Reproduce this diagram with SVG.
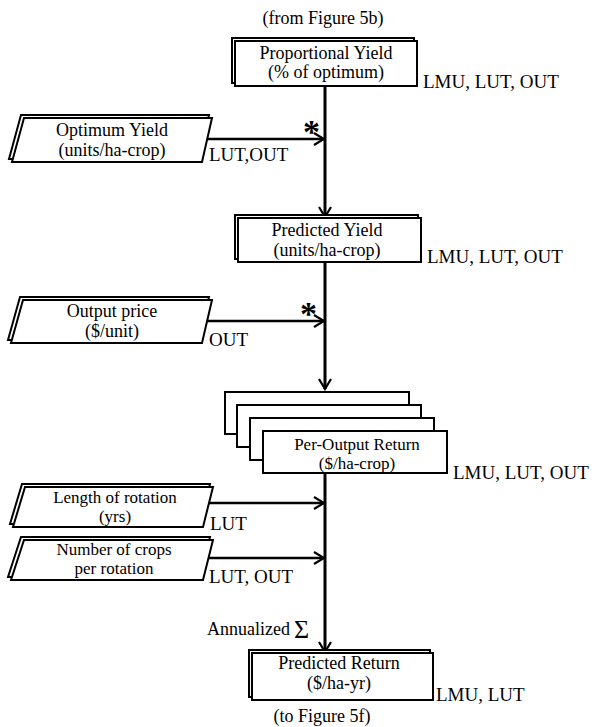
<svg xmlns="http://www.w3.org/2000/svg" width="599" height="727" viewBox="0 0 599 727">
<style>
text{font-family:"Liberation Serif","Times New Roman",serif;fill:#000}
.t{font-size:18px;text-anchor:middle}
.s{font-size:17px;text-anchor:middle}
.l{font-size:19px}
.c{font-size:18px;text-anchor:middle}
.box{fill:#fff;stroke:#000;stroke-width:2}
.bk{fill:#fff;stroke:#000;stroke-width:2}
.main{stroke:#000;stroke-width:3;fill:none}
.in{stroke:#000;stroke-width:2.5;fill:none}
</style>
<defs>
<marker id="ah" markerUnits="userSpaceOnUse" viewBox="0 0 14 14" refX="12" refY="7" markerWidth="14" markerHeight="14" orient="auto">
<path d="M2,1 L12,7 L2,13" fill="none" stroke="#000" stroke-width="2.2"/>
</marker>
</defs>
<text class="c" x="323" y="24">(from Figure 5b)</text>
<text class="c" x="322" y="722">(to Figure 5f)</text>
<g id="connectors">
<line class="main" x1="325" y1="86" x2="325" y2="217" marker-end="url(#ah)"/>
<line class="main" x1="325" y1="262" x2="325" y2="389" marker-end="url(#ah)"/>
<line class="main" x1="325" y1="473" x2="325" y2="652" marker-end="url(#ah)"/>
<line class="in" x1="207" y1="139" x2="324" y2="139" marker-end="url(#ah)"/>
<line class="in" x1="207" y1="321" x2="324" y2="321" marker-end="url(#ah)"/>
<line class="in" x1="208" y1="503" x2="324" y2="503" marker-end="url(#ah)"/>
<line class="in" x1="207" y1="558" x2="324" y2="558" marker-end="url(#ah)"/>
<text x="303" y="143" style="font-size:34px;font-weight:bold">*</text>
<text x="300" y="325" style="font-size:34px;font-weight:bold">*</text>
<text x="209" y="161" class="l">LUT,OUT</text>
<text x="209" y="346" class="l">OUT</text>
<text x="210" y="530" class="l">LUT</text>
<text x="209" y="583" class="l">LUT, OUT</text>
<text x="207" y="635" style="font-size:18px">Annualized</text>
<text x="294" y="638" style="font-size:26px">Σ</text>
</g>
<g id="proportional-yield">
<rect class="bk" x="232" y="38" width="182" height="45"/>
<rect class="box" x="235" y="41" width="182" height="45"/>
<text class="t" x="326" y="59">Proportional Yield</text>
<text class="t" x="326" y="78">(% of optimum)</text>
<text class="l" x="423" y="88">LMU, LUT, OUT</text>
</g>
<g id="optimum-yield">
<polygon class="bk" points="21,115 209,115 199,159 9,159"/>
<polygon class="box" points="24,118 212,118 202,162 12,162"/>
<text class="t" x="112" y="136">Optimum Yield</text>
<text class="t" x="112" y="156">(units/ha-crop)</text>
</g>
<g id="predicted-yield">
<rect class="bk" x="235" y="215" width="183" height="44"/>
<rect class="box" x="238" y="218" width="183" height="44"/>
<text class="t" x="327" y="236">Predicted Yield</text>
<text class="t" x="327" y="256">(units/ha-crop)</text>
<text class="l" x="427" y="263">LMU, LUT, OUT</text>
</g>
<g id="output-price">
<polygon class="bk" points="20,297 209,297 199,340 8,340"/>
<polygon class="box" points="23,300 212,300 202,343 11,343"/>
<text class="t" x="112" y="317">Output price</text>
<text class="t" x="112" y="337">($/unit)</text>
</g>
<g id="per-output-return">
<rect class="box" x="225" y="392" width="184" height="42"/>
<rect class="box" x="237" y="405" width="184" height="42"/>
<rect class="box" x="250" y="418" width="184" height="42"/>
<rect class="box" x="263" y="431" width="184" height="42"/>
<text class="s" x="357" y="450">Per-Output Return</text>
<text class="s" x="357" y="469">($/ha-crop)</text>
<text class="l" x="453" y="479">LMU, LUT, OUT</text>
</g>
<g id="length-of-rotation">
<polygon class="bk" points="22,484 210,484 200,524 10,524"/>
<polygon class="box" points="25,487 213,487 203,527 13,527"/>
<text class="s" x="115" y="503">Length of rotation</text>
<text class="s" x="115" y="522">(yrs)</text>
</g>
<g id="number-of-crops">
<polygon class="bk" points="21,537 210,537 200,577 8,577"/>
<polygon class="box" points="24,540 213,540 203,580 11,580"/>
<text class="s" x="114" y="555">Number of crops</text>
<text class="s" x="114" y="574">per rotation</text>
</g>
<g id="predicted-return">
<rect class="bk" x="249" y="650" width="181" height="47"/>
<rect class="box" x="252" y="653" width="181" height="47"/>
<text class="t" x="339" y="669">Predicted Return</text>
<text class="t" x="339" y="689">($/ha-yr)</text>
<text class="l" x="436" y="701">LMU, LUT</text>
</g>
</svg>
